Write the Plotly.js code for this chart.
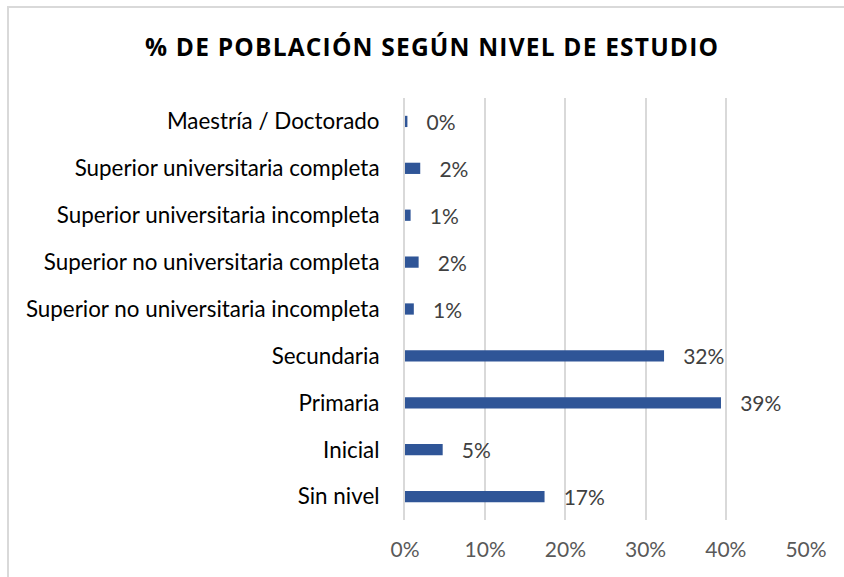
<!DOCTYPE html>
<html>
<head>
<meta charset="utf-8">
<script src="https://cdn.plot.ly/plotly-3.0.1.min.js"></script>
<style>
  html, body { margin: 0; padding: 0; background: #fff; }
  #wrap { position: relative; width: 844px; height: 577px; }
  #chart { width: 844px; height: 577px; }
  #frame { position: absolute; left: 7px; top: 6px; width: 900px; height: 700px;
           border-left: 2px solid #d9d9d9; border-top: 2px solid #d9d9d9; pointer-events: none; }
  .gtitle { letter-spacing: 1.2px; }
</style>
</head>
<body>
<div id="wrap">
  <div id="chart"></div>
  <div id="frame"></div>
</div>
<script>
const categories = [
  "Sin nivel",
  "Inicial",
  "Primaria",
  "Secundaria",
  "Superior no universitaria incompleta",
  "Superior no universitaria completa",
  "Superior universitaria incompleta",
  "Superior universitaria completa",
  "Maestría / Doctorado"
];
const values = [0.174, 0.047, 0.394, 0.323, 0.011, 0.017, 0.007, 0.019, 0.003];
const xTicks = [0, 0.1, 0.2, 0.3, 0.4, 0.5];
const xTickLabels = ["0%", "10%", "20%", "30%", "40%", "50%"];

const trace = {
  type: "bar",
  orientation: "h",
  y: categories,
  x: values,
  marker: { color: "#2f5597", line: { width: 0 } },
  texttemplate: "\u00a0\u00a0\u00a0%{x:.0%}",
  textposition: "outside",
  constraintext: "none",
  cliponaxis: false,
  textfont: { family: "Lato, 'Open Sans', sans-serif", size: 21, color: "#404040" },
  hoverinfo: "none"
};

const layout = {
  width: 844,
  height: 577,
  paper_bgcolor: "#ffffff",
  plot_bgcolor: "#ffffff",
  margin: { l: 405, r: 38, t: 98, b: 57 },
  showlegend: false,
  bargap: 0.76,
  title: {
    text: "% DE POBLACIÓN SEGÚN NIVEL DE ESTUDIO",
    font: { family: "'Open Sans', Lato, sans-serif", size: 24.5, color: "#000000", weight: "bold" },
    x: 0.512, xanchor: "center", y: 0.918, yanchor: "middle"
  },
  xaxis: {
    range: [0, 0.5],
    tickvals: xTicks,
    ticktext: xTickLabels,
    showgrid: true,
    gridcolor: "#d9d9d9",
    gridwidth: 2,
    zeroline: false,
    showline: false,
    ticks: "",
    tickfont: { family: "Lato, 'Open Sans', sans-serif", size: 21, color: "#595959" },
    ticklabelstandoff: 15,
    fixedrange: true
  },
  yaxis: {
    type: "category",
    categoryorder: "array",
    categoryarray: categories,
    showgrid: false,
    zeroline: false,
    showline: true,
    linecolor: "#d9d9d9",
    linewidth: 2,
    ticks: "",
    tickfont: { family: "Lato, 'Open Sans', sans-serif", size: 22.4, color: "#000000" },
    ticklabelstandoff: 19,
    fixedrange: true
  }
};

Plotly.newPlot("chart", [trace], layout, { displayModeBar: false, staticPlot: true });
</script>
</body>
</html>
